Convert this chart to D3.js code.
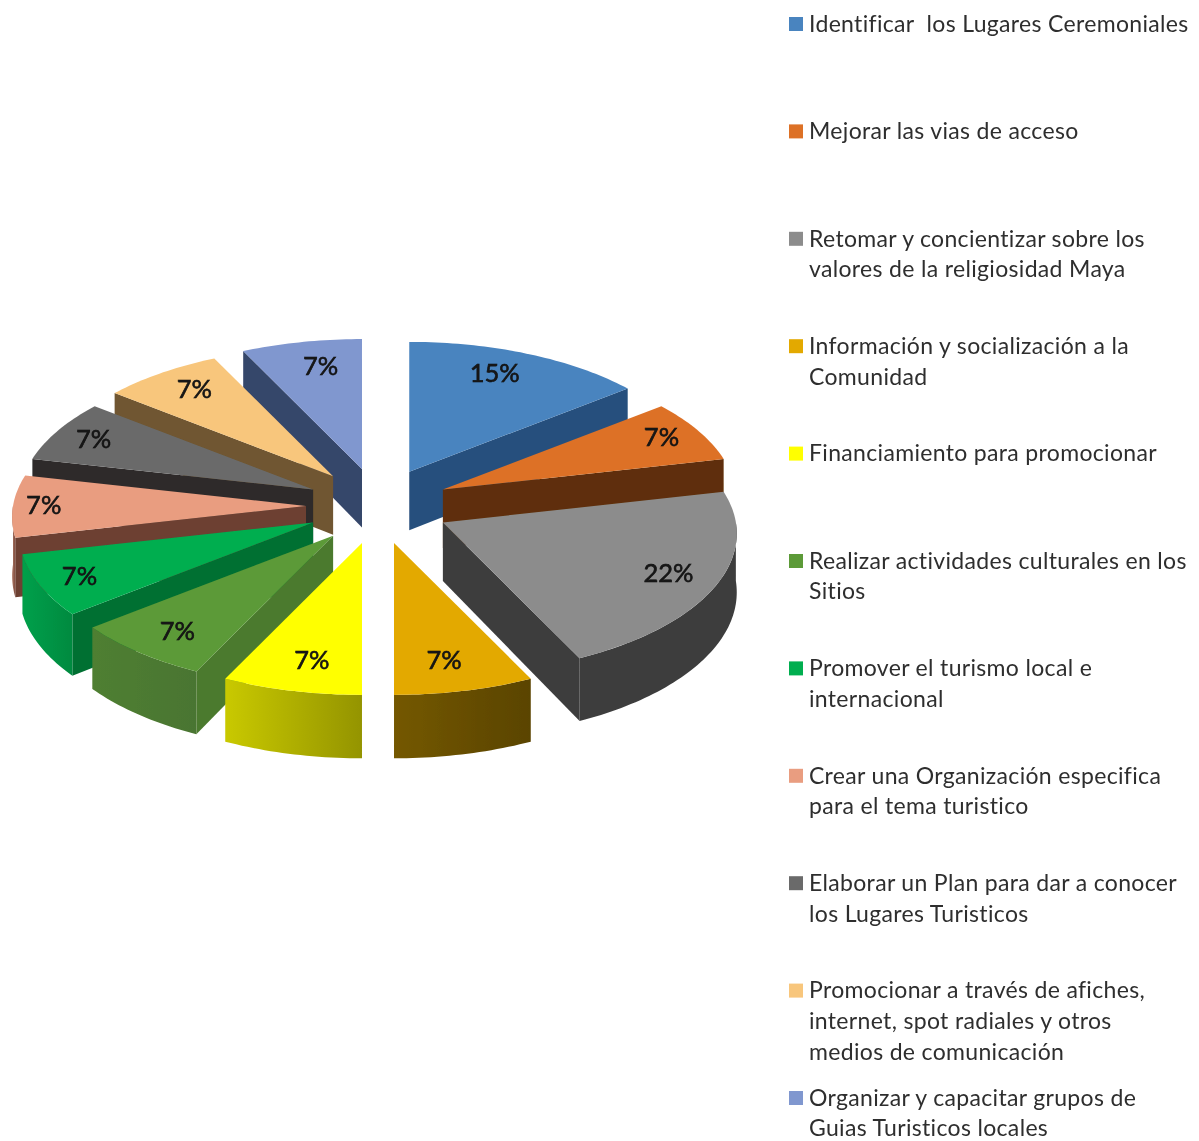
<!DOCTYPE html>
<html><head><meta charset="utf-8">
<script src="https://cdn.jsdelivr.net/npm/d3@7/dist/d3.min.js"></script>
<style>html,body{margin:0;padding:0;background:#fff}svg{display:block}</style>
</head><body><svg id="c" width="1199" height="1141"></svg>
<script>
const categories = [
  ["Identificar  los Lugares Ceremoniales"],
  ["Mejorar las vias de acceso"],
  ["Retomar y concientizar sobre los","valores de la religiosidad Maya"],
  ["Información y socialización a la","Comunidad"],
  ["Financiamiento para promocionar"],
  ["Realizar actividades culturales en los","Sitios"],
  ["Promover el turismo local e","internacional"],
  ["Crear una Organización especifica","para el tema turistico"],
  ["Elaborar un Plan para dar a conocer","los Lugares Turisticos"],
  ["Promocionar a través de afiches,","internet, spot radiales y otros","medios de comunicación"],
  ["Organizar y capacitar grupos de","Guias Turisticos locales"]
];
const values = [4,2,6,2,2,2,2,2,2,2,2];
const percentLabels = ["15%","7%","22%","7%","7%","7%","7%","7%","7%","7%","7%"];
const topColors = ["#4a84bf","#dd7127","#8c8c8c","#e3a900","#ffff00","#5b9a37","#00ae50","#e99d80","#6b6b6b","#f8c67c","#8097cf"];
const sideColors = ["#27507d","#5f2f08","#3e3e3e","#6e5300","#a8a800","#4c7a2e","#006f33","#6d3f30","#2e2a2a","#6f5630","#36466b"];
const rimStart = ["#27507d","#5f2f08","#3e3e3e","#745800","#c9c900","#4f7f30","#00a04a","#b07a68","#2e2a2a","#6f5630","#36466b"];
const rimEnd   = ["#27507d","#5f2f08","#3e3e3e","#5a4400","#949400","#4a7530","#008a40","#7b4a3c","#2e2a2a","#6f5630","#36466b"];
const labelNudge = [[-13,-2],[8,-5],[3,-2],[-7,-3],[7,-3],[2,0],[-11,1],[-22,-2],[-9,-3],[4,-3],[9,1]];

const cx = 378, cy = 506, explodeX = 72, explodeY = 38;
const radiusX = 293, radiusY = 140, persp = 0.078, depth = 58.5, labelR = 0.82;

const svg = d3.select("#c");
const defs = svg.append("defs");
defs.append("filter").attr("id","soft").append("feGaussianBlur").attr("stdDeviation",0.6);
defs.append("filter").attr("id","softText").append("feGaussianBlur").attr("stdDeviation",0.35);

const arcs = d3.pie().sort(null).value(d=>d).startAngle(0).endAngle(2*Math.PI)(values);
const line = d3.line();

function project(d, a, r, z){
  const m = (d.startAngle + d.endAngle)/2;
  const ax = cx + explodeX*Math.sin(m), ay = cy - explodeY*Math.cos(m);
  const u = r*Math.sin(a), v = r*Math.cos(a), s = 1/(1+persp*v);
  return [ax + radiusX*u*s, ay - radiusY*v*s + z*depth*s];
}
function arcPts(d, a0, a1, z){
  const n = Math.max(2, Math.ceil(Math.abs(a1-a0)/0.02));
  return d3.range(n+1).map(i=>project(d, a0+(a1-a0)*i/n, 1, z));
}
arcs.forEach((d,i)=>{
  const g = defs.append("linearGradient").attr("id","rim"+i);
  g.append("stop").attr("offset",0).attr("stop-color",rimStart[i]);
  g.append("stop").attr("offset",1).attr("stop-color",rimEnd[i]);
});

const order = d3.range(arcs.length).sort((p,q)=>{
  const mp=(arcs[p].startAngle+arcs[p].endAngle)/2, mq=(arcs[q].startAngle+arcs[q].endAngle)/2;
  return Math.cos(mq)-Math.cos(mp);
});
const pie = svg.append("g").attr("filter","url(#soft)");
order.forEach(i=>{
  const d = arcs[i], g = pie.append("g");
  const radial = a => [project(d,a,0,0),project(d,a,1,0),project(d,a,1,1),project(d,a,0,1)];
  if (Math.sin(d.startAngle) < -1e-6) g.append("path").attr("d",line(radial(d.startAngle))+"Z").attr("fill",sideColors[i]);
  if (Math.sin(d.endAngle) > 1e-6) g.append("path").attr("d",line(radial(d.endAngle))+"Z").attr("fill",sideColors[i]);
  const a0 = Math.max(d.startAngle, Math.PI/2), a1 = Math.min(d.endAngle, 3*Math.PI/2);
  if (a1 > a0){
    const rim = arcPts(d,a0,a1,0).concat(arcPts(d,a1,a0,1));
    g.append("path").attr("d",line(rim)+"Z").attr("fill",`url(#rim${i})`);
  }
  const top = [project(d,0,0,0)].concat(arcPts(d,d.startAngle,d.endAngle,0));
  g.append("path").attr("d",line(top)+"Z").attr("fill",topColors[i]);
});

const font = "Lato, 'Open Sans', sans-serif";
svg.append("g").attr("filter","url(#softText)").selectAll("text").data(arcs).join("text")
  .attr("x",(d,i)=>project(d,(d.startAngle+d.endAngle)/2,labelR,0)[0]+labelNudge[i][0])
  .attr("y",(d,i)=>project(d,(d.startAngle+d.endAngle)/2,labelR,0)[1]+labelNudge[i][1])
  .attr("text-anchor","middle").attr("dominant-baseline","central")
  .attr("font-family",font).attr("font-size",25.5).attr("fill","#141414")
  .attr("stroke","#141414").attr("stroke-width",0.6)
  .text((d,i)=>percentLabels[i]);

const legendY = d3.scalePoint().domain(d3.range(categories.length)).range([24,1098]);
const legend = svg.append("g").selectAll("g").data(categories).join("g")
  .attr("transform",(d,i)=>`translate(789,${legendY(i)})`);
legend.append("rect").attr("x",0).attr("y",-7).attr("width",14).attr("height",14).attr("fill",(d,i)=>topColors[i]).attr("filter","url(#softText)");
legend.selectAll("text").data(d=>d).join("text")
  .attr("x",20).attr("y",(d,j)=>j*30.6).attr("dy","0.34em")
  .attr("font-family",font).attr("font-size",23).attr("letter-spacing",0.33).attr("fill","#2e2e2e")
  .attr("filter","url(#softText)")
  .style("white-space","pre")
  .text(d=>d);
</script></body></html>
